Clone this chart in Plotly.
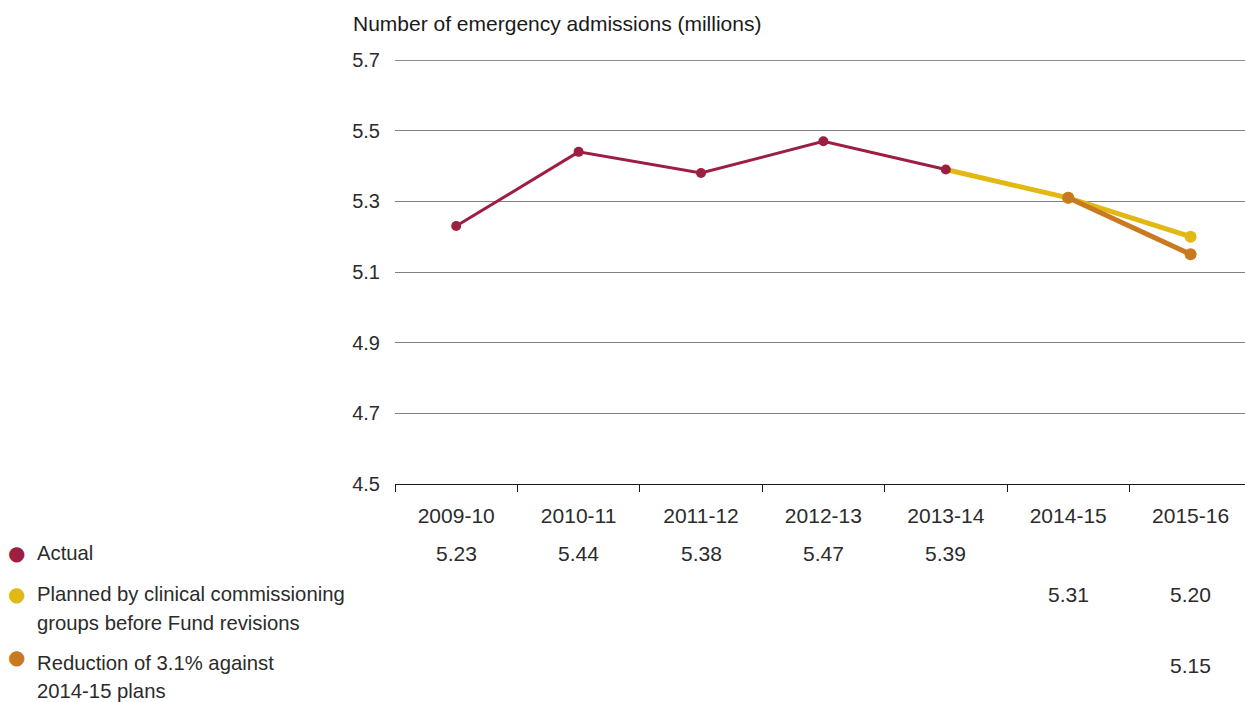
import plotly.graph_objects as go

# Financial years on the x axis
years = ["2009-10", "2010-11", "2011-12", "2012-13", "2013-14", "2014-15", "2015-16"]

# Emergency admissions (millions)
actual_years = ["2009-10", "2010-11", "2011-12", "2012-13", "2013-14"]
actual = [5.23, 5.44, 5.38, 5.47, 5.39]

planned_years = ["2014-15", "2015-16"]
planned = [5.31, 5.20]

reduced_years = ["2015-16"]
reduced = [5.15]

y_ticks = [4.5, 4.7, 4.9, 5.1, 5.3, 5.5, 5.7]

series_names = [
    ["Actual"],
    ["Planned by clinical commissioning", "groups before Fund revisions"],
    ["Reduction of 3.1% against", "2014-15 plans"],
]

C_ACTUAL = "#9c1f42"
C_PLANNED = "#e2b814"
C_REDUCED = "#c97a20"
FONT = "Liberation Sans, Arial, sans-serif"
TXT = "#2b2b2b"

W, H = 1245, 702
ML, MR, MT, MB = 395, 0, 60, 218
PW, PH = W - ML - MR, H - MT - MB
band = 122.4


def px_x(px):
    return (px - ML) / PW


def px_y(py):
    return (H - MB - py) / PH


fig = go.Figure()

# Planned path continues from the last actual year
fig.add_trace(go.Scatter(
    x=[actual_years[-1]] + planned_years,
    y=[actual[-1]] + planned,
    mode="lines",
    line=dict(color=C_PLANNED, width=5),
    hoverinfo="skip", cliponaxis=False,
))
fig.add_trace(go.Scatter(
    x=planned_years, y=planned,
    mode="markers",
    marker=dict(color=C_PLANNED, size=12, line=dict(width=0)),
    hoverinfo="skip", cliponaxis=False,
))

# Reduced path continues from the 2014-15 plan
fig.add_trace(go.Scatter(
    x=[planned_years[0]] + reduced_years,
    y=[planned[0]] + reduced,
    mode="lines+markers",
    line=dict(color=C_REDUCED, width=5),
    marker=dict(color=C_REDUCED, size=12, line=dict(width=0)),
    hoverinfo="skip", cliponaxis=False,
))

fig.add_trace(go.Scatter(
    x=actual_years,
    y=actual,
    mode="lines+markers",
    line=dict(color=C_ACTUAL, width=3),
    marker=dict(color=C_ACTUAL, size=10, line=dict(width=0)),
    hoverinfo="skip", cliponaxis=False,
))

# Top gridline at the upper end of the range
shapes = [dict(
    type="line", xref="paper", yref="y", x0=0, x1=1,
    y0=y_ticks[-1], y1=y_ticks[-1],
    line=dict(color="#1a1a1a", width=1), layer="below",
)]

annotations = [
    dict(
        text="Number of emergency admissions (millions)",
        xref="paper", yref="paper", x=px_x(351), y=px_y(24),
        xanchor="left", yanchor="middle", showarrow=False,
        font=dict(size=21, color="#1a1a1a", family=FONT),
    )
]

# Value table under the axis
rows_y = [553, 594, 665]
table = [(actual_years, actual), (planned_years, planned), (reduced_years, reduced)]
for (yrs, vals), ry in zip(table, rows_y):
    for yr, v in zip(yrs, vals):
        annotations.append(dict(
            text=f"{v:.2f}", x=yr, xref="x", yref="paper", y=px_y(ry),
            xanchor="center", yanchor="middle", showarrow=False,
            font=dict(size=21, color=TXT, family=FONT),
        ))

# Series key on the left
key_colors = [C_ACTUAL, C_PLANNED, C_REDUCED]
key_dot_y = [553, 594, 657]
key_text_y = [[553], [594, 623], [663, 691]]
for names, col, dy, tys in zip(series_names, key_colors, key_dot_y, key_text_y):
    annotations.append(dict(
        text="●", xref="paper", yref="paper", x=px_x(16), y=px_y(dy),
        xanchor="center", yanchor="middle", showarrow=False,
        font=dict(size=20, color=col, family="DejaVu Sans"),
    ))
    for line, ty in zip(names, tys):
        annotations.append(dict(
            text=line, xref="paper", yref="paper", x=px_x(35), y=px_y(ty),
            xanchor="left", yanchor="middle", showarrow=False,
            font=dict(size=20.3, color=TXT, family=FONT),
        ))

fig.update_layout(
    width=W, height=H,
    margin=dict(l=ML, r=MR, t=MT, b=MB, pad=0),
    paper_bgcolor="white", plot_bgcolor="white",
    showlegend=False,
    font=dict(family=FONT, size=21, color=TXT),
    annotations=annotations,
    shapes=shapes,
)

fig.update_xaxes(
    type="category", categoryorder="array", categoryarray=years,
    range=[-0.5, -0.5 + PW / band],
    showgrid=False, zeroline=False,
    showline=True, linecolor="#1a1a1a", linewidth=1,
    ticks="outside", tickson="boundaries", ticklen=7, tickcolor="#1a1a1a",
    ticklabelstandoff=13,
    tickfont=dict(size=21, color=TXT, family=FONT),
)

fig.update_yaxes(
    range=[4.5, 5.7], tickvals=y_ticks, ticktext=[f"{t:.1f}" for t in y_ticks],
    showgrid=True, gridcolor="#808080", gridwidth=1,
    zeroline=False, showline=False, ticks="",
    ticklabelstandoff=14,
    tickfont=dict(size=20, color=TXT, family=FONT),
)

fig.write_html("out.html")
